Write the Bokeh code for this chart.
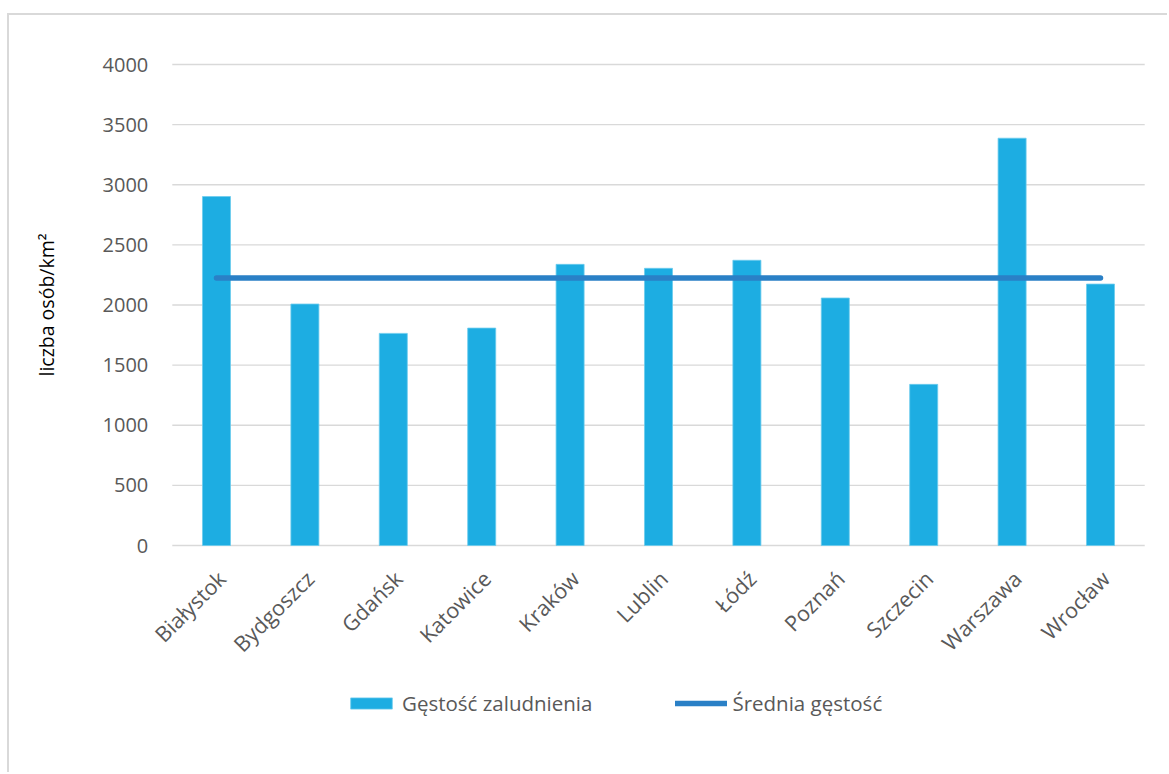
import math
from bokeh.plotting import figure
from bokeh.models import Range1d, Legend, LegendItem, ColumnDataSource
from bokeh.core.properties import value
from bokeh.embed import file_html
from bokeh.resources import INLINE

cities = ["Białystok", "Bydgoszcz", "Gdańsk", "Katowice", "Kraków", "Lublin",
          "Łódź", "Poznań", "Szczecin", "Warszawa", "Wrocław"]
density = [2902, 2008, 1764, 1808, 2338, 2305, 2372, 2058, 1340, 3387, 2174]
average = [2224, 2224, 2224, 2224, 2224, 2224, 2224, 2224, 2224, 2224, 2224]
y_ticks = [0, 500, 1000, 1500, 2000, 2500, 3000, 3500, 4000]
y_tick_labels = ["0", "500", "1000", "1500", "2000", "2500", "3000", "3500", "4000"]
y_title = "liczba osób/km²"

FONT = "Open Sans"
TXT = "#595959"
GRID = "#d9d9d9"

# page layout: the frame fills the whole figure; plot area in screen pixels
W, H = 1160, 759
CAT_PX = 88.4            # pixels per category
LEFT_PX = 207            # from frame left to the first category centre
PX_PER_UNIT = 481 / 4000
TOP_PX = 49              # from frame top to the 4000 line

n = len(cities)
idx = list(range(n))
x_start = -LEFT_PX / CAT_PX
x_end = x_start + W / CAT_PX
y_max = 4000 + TOP_PX / PX_PER_UNIT
y_min = y_max - H / PX_PER_UNIT

p = figure(width=W, height=H, x_range=Range1d(x_start, x_end),
           y_range=Range1d(y_min, y_max), output_backend="svg",
           toolbar_location=None, x_axis_location=None, y_axis_location=None,
           min_border=0, margin=(13, 0, 0, 7))
p.styles = {"border-left": "2px solid #d9d9d9", "border-top": "2px solid #d9d9d9"}
p.outline_line_color = None
p.grid.visible = False

# horizontal gridlines across the category span
p.segment(x0=[-0.5] * len(y_ticks), x1=[n - 0.5] * len(y_ticks), y0=y_ticks,
          y1=y_ticks, line_color=GRID, line_width=1.3)

bars = p.vbar(x=idx, top=density, width=0.317, fill_color="#1DADE2",
              line_color="#6ccbee", line_width=0.8)
avg_line = p.line(x=idx, y=average, line_width=5.5, line_color="#2A80C6",
                  line_cap="round")

# y tick labels
p.text(x=[-0.5] * len(y_ticks), y=y_ticks, text=y_tick_labels, x_offset=-24,
       text_align="right", text_baseline="middle", text_font=value(FONT),
       text_font_size="20px", text_color=TXT)

# y axis title
p.text(x=[-0.5], y=[2000], text=[y_title], x_offset=-126, angle=math.pi / 2,
       text_align="center", text_baseline="middle", text_font=value(FONT),
       text_font_size="19.5px", text_color="#000000")

# category labels (rotated, right end at the category position)
lab_src = ColumnDataSource(dict(x=idx, y=[0] * n, t=cities))
p.text(x="x", y="y", text="t", source=lab_src, angle=math.pi / 4,
       text_align="right", text_baseline="middle", x_offset=5, y_offset=29,
       text_font=value(FONT), text_font_size="21.5px", text_color=TXT)

legend = Legend(items=[LegendItem(label="Gęstość zaludnienia", renderers=[bars]),
                       LegendItem(label="Średnia gęstość", renderers=[avg_line])],
                orientation="horizontal", location=(336, 57),
                glyph_width=52, glyph_height=14, label_standoff=5, spacing=83,
                padding=0, margin=0, border_line_color=None,
                background_fill_alpha=0, label_text_font=FONT,
                label_text_font_size="20.5px", label_text_color=TXT)
p.add_layout(legend, "center")

open("out.html", "w").write(file_html(p, INLINE))
